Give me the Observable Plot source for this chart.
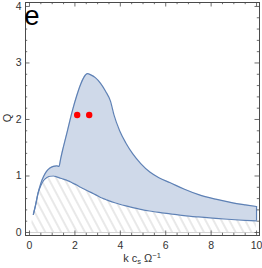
<!DOCTYPE html>
<html><head><meta charset="utf-8">
<script src="https://cdn.jsdelivr.net/npm/d3@7"></script>
<script src="https://cdn.jsdelivr.net/npm/@observablehq/plot@0.6"></script>
<style>body{margin:0;background:#fff}#c{position:relative;width:262px;height:268px}</style>
</head><body><div id="c"></div>
<script>
const kValues = [0.17,0.26,0.38,0.5,0.62,0.75,0.9,1.05,1.2,1.3,1.37,1.46,1.56,1.66,1.78,1.92,2.08,2.25,2.4,2.55,2.7,2.9,3.13,3.35,3.57,3.72,3.97,4.25,4.55,4.9,5.3,5.7,6.2,6.8,7.45,8.2,8.9,9.5,10];
const upperQ = [0.32,0.47,0.7,0.87,0.99,1.08,1.14,1.17,1.18,1.17,1.3,1.46,1.62,1.78,1.98,2.2,2.42,2.62,2.75,2.81,2.79,2.74,2.64,2.5,2.32,2.08,1.8,1.58,1.39,1.22,1.07,0.97,0.88,0.77,0.67,0.59,0.53,0.49,0.46];
const lowerQ = [0.32,0.47,0.7,0.83,0.92,0.97,0.995,1.0,0.985,0.97,0.96,0.95,0.935,0.92,0.9,0.87,0.84,0.8,0.77,0.74,0.71,0.67,0.62,0.585,0.55,0.53,0.5,0.47,0.44,0.41,0.38,0.355,0.33,0.3,0.275,0.25,0.23,0.215,0.205];
const hatchK = [0.04, ...kValues];
const hatchQ = [0, ...lowerQ];
const pointK = [2.1, 2.63];
const pointQ = [2.08, 2.08];
const xMajor = [0,2,4,6,8,10];
const xMinor = [0.5,1,1.5,2.5,3,3.5,4.5,5,5.5,6.5,7,7.5,8.5,9,9.5];
const yMajor = [0,1,2,3,4];
const yMinor = [0.2,0.4,0.6,0.8,1.2,1.4,1.6,1.8,2.2,2.4,2.6,2.8,3.2,3.4,3.6,3.8];
const panelLabel = "e";

const W = 262, H = 268, mL = 25, mR = 3, mT = 2, mB = 33;
const iW = W - mL - mR, iH = H - mT - mB;
const blue = "#5e81b5", frameC = "#4a4a4a";
const idx = kValues.map((_, i) => i);
const hIdx = hatchK.map((_, i) => i);

const ticks = (vals, len, side) => {
  if (side === "bottom") return Plot.ruleX(vals, {x: d => d, insetTop: iH - len, stroke: frameC, strokeWidth: 0.8});
  if (side === "top") return Plot.ruleX(vals, {x: d => d, insetBottom: iH - len, stroke: frameC, strokeWidth: 0.8});
  if (side === "left") return Plot.ruleY(vals, {y: d => d, insetRight: iW - len, stroke: frameC, strokeWidth: 0.8});
  return Plot.ruleY(vals, {y: d => d, insetLeft: iW - len, stroke: frameC, strokeWidth: 0.8});
};

const svg = Plot.plot({
  width: W, height: H,
  marginLeft: mL, marginRight: mR, marginTop: mT, marginBottom: mB,
  style: {fontFamily: "Liberation Sans, Arial, sans-serif", fontSize: "10.5px", color: "#333", background: "#fff"},
  x: {domain: [-0.176, 10.13], ticks: xMajor, tickSize: 0, tickPadding: 6, label: null, tickFormat: d => String(d)},
  y: {domain: [-0.053, 4.07], ticks: yMajor, tickSize: 0, tickPadding: 4, label: null, tickFormat: d => String(d)},
  marks: [
    Plot.areaY(hIdx, {x: i => hatchK[i], y1: 0, y2: i => hatchQ[i], fill: "url(#hatch)", curve: "monotone-x"}),
    Plot.ruleY([0], {x1: d3.min(hatchK), x2: d3.max(hatchK), stroke: "#d2d2d2", strokeWidth: 1}),
    Plot.areaY(idx, {x: i => kValues[i], y1: i => lowerQ[i], y2: i => upperQ[i], fill: "#cfd9e9", curve: "monotone-x"}),
    Plot.line(idx, {x: i => kValues[i], y: i => lowerQ[i], stroke: blue, strokeWidth: 1.2, curve: "monotone-x"}),
    Plot.line(idx, {x: i => kValues[i], y: i => upperQ[i], stroke: blue, strokeWidth: 1.2, curve: "monotone-x"}),
    Plot.ruleX([kValues.length - 1], {x: i => kValues[i], y1: i => lowerQ[i], y2: i => upperQ[i], stroke: blue, strokeWidth: 1.2}),
    Plot.dot(pointK.map((_, i) => i), {x: i => pointK[i], y: i => pointQ[i], r: 3.2, fill: "#ff0000", stroke: "none"}),
    Plot.frame({stroke: frameC, strokeWidth: 1}),
    ticks(xMajor, 4.5, "bottom"), ticks(xMinor, 2.2, "bottom"),
    ticks(xMajor, 4.5, "top"), ticks(xMinor, 2.2, "top"),
    ticks(yMajor, 4.5, "left"), ticks(yMinor, 2.2, "left"),
    ticks(yMajor, 4.5, "right"), ticks(yMinor, 2.2, "right")
  ]
});

const s = d3.select(svg);
const defs = s.insert("defs", ":first-child");
const pat = defs.append("pattern").attr("id", "hatch").attr("patternUnits", "userSpaceOnUse")
  .attr("width", 7).attr("height", 7).attr("patternTransform", "rotate(-28)");
pat.append("line").attr("x1", 1).attr("y1", -1).attr("x2", 1).attr("y2", 8)
  .attr("stroke", "#c6c6c6").attr("stroke-width", 0.8);

s.append("text").attr("x", 32).attr("y", 25).attr("font-size", 27.5).attr("fill", "#000")
  .attr("font-family", "Liberation Sans, Arial, sans-serif").text(panelLabel);

s.append("text").attr("transform", "translate(6.5,118) rotate(-90)")
  .attr("text-anchor", "middle").attr("dominant-baseline", "central")
  .attr("font-size", 11).attr("fill", "#333").text("Q");

const xl = s.append("text").attr("x", 142).attr("y", 262).attr("text-anchor", "middle")
  .attr("font-size", 11).attr("fill", "#333");
xl.append("tspan").text("k c");
xl.append("tspan").attr("font-size", 7.5).attr("dy", 2).text("s");
xl.append("tspan").attr("dy", -2).text(" Ω");
xl.append("tspan").attr("font-size", 7.5).attr("dy", -4).text("−1");

document.getElementById("c").appendChild(svg);
</script>
</body></html>
